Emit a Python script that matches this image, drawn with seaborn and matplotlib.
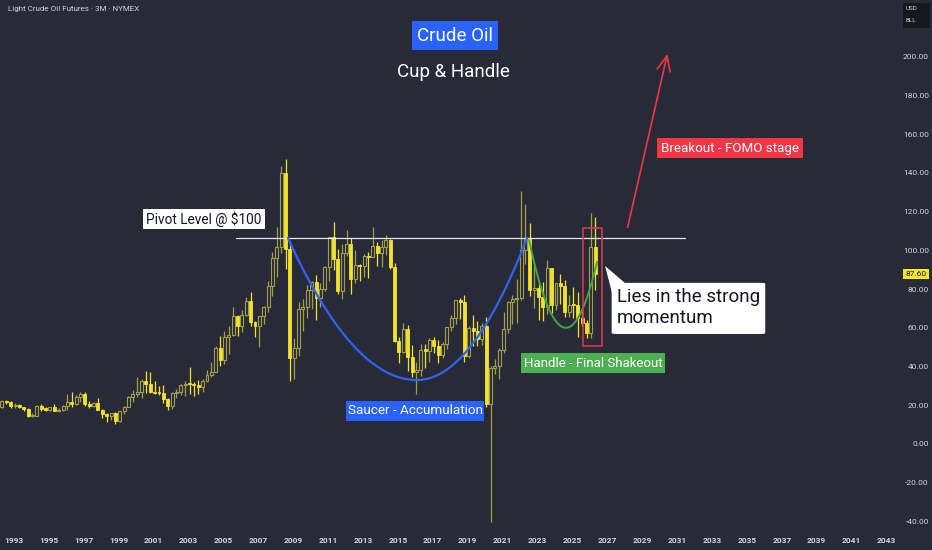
import numpy as np
import pandas as pd
import matplotlib
matplotlib.use("Agg")
import matplotlib.pyplot as plt
import seaborn as sns
from matplotlib.patches import Rectangle, FancyBboxPatch, Polygon

# ---------------- data (quarterly OHLC, 1992 Q1 -> 2026 Q2) ----------------
first_year = 1992
opens = [19.2, 19.2, 22.0, 21.8, 19.5, 20.3, 18.9, 18.1, 14.2, 14.7, 19.4, 18.0,
         17.8, 19.1, 17.2, 17.5, 19.6, 21.5, 20.9, 24.4, 25.9, 20.4, 19.8, 21.2,
         17.6, 15.6, 14.2, 16.1, 12.0, 16.8, 19.3, 24.5, 25.6, 26.9, 32.5, 30.8,
         26.8, 26.3, 26.3, 23.4, 19.8, 26.3, 26.9, 30.5, 31.2, 31.0, 30.2, 29.2,
         32.5, 35.8, 37.0, 49.6, 43.5, 55.4, 56.5, 66.2, 61.0, 66.6, 73.9, 62.9,
         61.1, 65.9, 70.7, 81.7, 96.0, 101.6, 140.0, 100.6, 44.6, 49.7, 69.9, 70.6,
         79.4, 83.8, 75.6, 80.0, 91.4, 106.7, 95.4, 79.2, 98.8, 103.0, 85.0, 92.2,
         91.8, 97.2, 96.6, 102.3, 98.4, 101.6, 105.4, 91.2, 53.3, 47.6, 59.5, 45.1,
         37.0, 38.3, 48.3, 48.2, 53.7, 50.6, 46.0, 51.7, 60.4, 64.9, 74.2, 73.3,
         45.4, 60.1, 58.5, 54.1, 61.1, 20.5, 39.3, 40.2, 48.5, 59.2, 73.5, 75.0,
         75.2, 100.3, 105.8, 79.5, 80.3, 75.7, 70.6, 90.8, 71.7, 83.2, 81.5, 68.2,
         71.7, 71.5, 65.1, 62.4, 57.4, 101.9]
highs = [19.6, 22.9, 22.6, 22.0, 21.1, 20.8, 19.2, 18.4, 15.9, 20.2, 20.7, 19.0,
         19.1, 20.5, 18.8, 19.9, 25.6, 26.6, 25.3, 26.6, 26.6, 22.4, 21.6, 23.9,
         18.0, 16.1, 16.1, 16.4, 16.8, 19.6, 25.0, 28.0, 34.4, 33.3, 37.8, 37.3,
         32.7, 30.0, 30.2, 23.5, 26.7, 28.4, 31.0, 32.7, 40.0, 32.0, 32.9, 33.7,
         38.4, 42.5, 50.5, 55.7, 58.3, 60.9, 70.9, 66.4, 69.2, 75.9, 78.4, 63.6,
         66.0, 71.0, 83.9, 99.3, 111.8, 143.7, 147.3, 104.3, 54.7, 73.4, 75.0, 82.0,
         83.9, 87.2, 82.9, 92.1, 106.9, 114.8, 100.6, 103.4, 110.6, 106.4, 100.4, 93.0,
         98.2, 98.9, 112.2, 104.2, 105.2, 107.7, 106.0, 93.6, 55.2, 62.6, 61.5, 50.9,
         42.5, 51.7, 51.6, 54.5, 55.2, 53.8, 52.9, 60.5, 66.7, 74.5, 75.3, 76.9,
         60.7, 66.6, 63.4, 62.3, 65.6, 40.4, 43.8, 49.4, 68.0, 74.0, 77.0, 85.4,
         130.5, 123.7, 114.1, 93.6, 83.0, 83.5, 95.0, 90.8, 83.1, 87.7, 84.5, 77.0,
         80.8, 78.4, 70.0, 64.0, 119.5, 117.0]
lows = [17.8, 18.7, 20.7, 18.8, 18.7, 18.6, 16.9, 13.9, 13.9, 14.5, 17.1, 16.9,
        16.9, 17.1, 16.7, 17.1, 17.6, 19.1, 20.3, 21.8, 19.8, 18.6, 18.9, 17.6,
        13.5, 11.4, 12.5, 10.35, 11.3, 15.6, 19.0, 21.6, 24.5, 23.7, 26.5, 26.3,
        25.9, 25.1, 21.4, 17.5, 17.9, 23.5, 25.5, 25.0, 26.0, 25.0, 26.0, 27.0,
        32.2, 34.5, 37.0, 40.3, 41.3, 46.2, 56.0, 55.5, 57.6, 65.9, 60.9, 55.1,
        49.9, 61.9, 68.2, 76.6, 86.1, 98.6, 90.5, 32.4, 33.6, 45.6, 58.3, 65.1,
        69.5, 64.2, 70.8, 79.1, 84.1, 90.0, 77.3, 75.0, 96.8, 77.3, 83.1, 84.1,
        86.1, 85.6, 96.4, 91.8, 91.2, 97.4, 90.4, 52.4, 42.0, 47.1, 37.75, 34.5,
        26.05, 35.2, 39.2, 42.2, 47.1, 42.0, 44.2, 49.1, 58.1, 62.2, 64.4, 42.4,
        44.4, 50.6, 50.5, 51.0, 19.3, -40.3, 36.1, 33.6, 47.2, 57.3, 61.7, 62.4,
        74.3, 92.9, 76.3, 70.1, 64.1, 63.6, 67.0, 67.7, 69.3, 72.5, 65.3, 65.3,
        65.2, 55.1, 61.0, 54.9, 54.6, 79.5]
closes = [19.2, 22.0, 21.8, 19.5, 20.3, 18.9, 18.1, 14.2, 14.7, 19.4, 18.0, 17.8,
          19.1, 17.2, 17.5, 19.6, 21.5, 20.9, 24.4, 25.9, 20.4, 19.8, 21.2, 17.6,
          15.6, 14.2, 16.1, 12.0, 16.8, 19.3, 24.5, 25.6, 26.9, 32.5, 30.8, 26.8,
          26.3, 26.25, 23.4, 19.8, 26.3, 26.9, 30.5, 31.2, 31.0, 30.2, 29.2, 32.5,
          35.8, 37.0, 49.6, 43.5, 55.4, 56.5, 66.2, 61.0, 66.6, 73.9, 62.9, 61.1,
          65.9, 70.7, 81.7, 96.0, 101.6, 140.0, 100.6, 44.6, 49.7, 69.9, 70.6, 79.4,
          83.8, 75.6, 80.0, 91.4, 106.7, 95.4, 79.2, 98.8, 103.0, 85.0, 92.2, 91.8,
          97.2, 96.6, 102.3, 98.4, 101.6, 105.4, 91.2, 53.3, 47.6, 59.5, 45.1, 37.0,
          38.3, 48.3, 48.2, 53.7, 50.6, 46.0, 51.7, 60.4, 64.9, 74.2, 73.3, 45.4,
          60.1, 58.5, 54.1, 61.1, 20.5, 39.3, 40.2, 48.5, 59.2, 73.5, 75.0, 75.2,
          100.3, 105.8, 79.5, 80.3, 75.7, 70.6, 90.8, 71.7, 83.2, 81.5, 68.2, 71.7,
          71.5, 65.1, 62.4, 57.4, 101.9, 87.6]
last_price = "87.60"
year_ticks = list(range(1993, 2044, 2))
price_ticks = list(range(-40, 201, 20))

# ---------------- style ----------------
sns.set_theme(style="dark")
BG = "#282b37"
TXT = "#d1d4dc"
UP = "#a39e4a"
DOWN = "#f2e230"
plt.rcParams["font.family"] = ["Roboto", "DejaVu Sans"]

df = pd.DataFrame({"open": opens, "high": highs, "low": lows, "close": closes})
df["t"] = first_year + np.arange(len(df)) * 0.25 + 0.06
df["up"] = df["close"] >= df["open"]
df["bottom"] = df[["open", "close"]].min(axis=1)
df["height"] = (df["close"] - df["open"]).abs().clip(lower=0.6)

fig = plt.figure(figsize=(9.32, 5.50), dpi=100)
fig.patch.set_facecolor(BG)
ax = fig.add_axes([0, 20 / 550, 897 / 932, 530 / 550])
ax.set_facecolor(BG)

# wicks
for is_up, col in [(True, UP), (False, DOWN)]:
    sub = df[df["up"] == is_up]
    ax.vlines(sub["t"], sub["low"], sub["high"], color=col, lw=0.9, zorder=2)
# bodies
up = df[df["up"]]
dn = df[~df["up"]]
ax.bar(up["t"], up["height"], bottom=up["bottom"], width=0.17,
       facecolor=BG, edgecolor=UP, linewidth=0.8, zorder=3)
ax.bar(dn["t"], dn["height"], bottom=dn["bottom"], width=0.17,
       facecolor=DOWN, edgecolor=DOWN, linewidth=0.6, zorder=3)

ax.set_xlim(1992.198, 2043.6)
ax.set_ylim(-44.4, 229.2)

# axes / ticks
for s in ax.spines.values():
    s.set_visible(False)
ax.grid(False)
ax.yaxis.tick_right()
ax.set_yticks(price_ticks)
ax.set_yticklabels([f"{v:.2f}" for v in price_ticks], fontsize=6, color=TXT,
                   ha="right")
ax.tick_params(axis="y", length=0, pad=23)
ax.set_xticks(year_ticks)
ax.set_xticklabels([str(y) for y in year_ticks], fontsize=6, color=TXT,
                   fontweight="bold")
ax.tick_params(axis="x", length=0, pad=5)

# pivot line
ax.plot([2005.72, 2031.45], [106.3, 106.3], color="#e6e8ee", lw=0.9, zorder=4)

# cup (blue) and handle (green) curves as half-parabolas
def half_parabola(x0, y0, xm, ym, n=60):
    x = np.linspace(x0, xm, n)
    y = ym + (y0 - ym) * ((x - xm) / (x0 - xm)) ** 2
    return x, y

xl, yl = half_parabola(2008.70, 106.3, 2016.09, 33.0)
xr, yr = half_parabola(2022.40, 106.3, 2016.09, 33.0)
cup = pd.DataFrame({"x": np.r_[xl, xr[::-1]], "y": np.r_[yl, yr[::-1]]})
sns.lineplot(data=cup, x="x", y="y", sort=False, estimator=None, ax=ax,
             color="#2f63f0", lw=1.6, zorder=5)
hl, hyl = half_parabola(2022.52, 105.3, 2024.63, 60.0)
hr, hyr = half_parabola(2026.41, 94.0, 2024.63, 60.0)
handle = pd.DataFrame({"x": np.r_[hl, hr[::-1]], "y": np.r_[hyl, hyr[::-1]]})
sns.lineplot(data=handle, x="x", y="y", sort=False, estimator=None, ax=ax,
             color="#43a547", lw=1.4, zorder=5)
ax.set_xlabel("")
ax.set_ylabel("")

# red box around last candles
ax.add_patch(Rectangle((2025.61, 50.7), 1.07, 60.8, fill=False,
                       edgecolor="#e5374a", lw=1.1, zorder=6))

# breakout arrow
ax.annotate("", xy=(2030.48, 202.8), xytext=(2028.13, 110.5),
            arrowprops=dict(arrowstyle="->,head_length=0.9,head_width=0.4",
                            color="#f23645", lw=1.2), zorder=6)

def label_box(x0, x1, y0, y1, text, fc, tc, size):
    ax.add_patch(Rectangle((x0, y0), x1 - x0, y1 - y0, facecolor=fc,
                           edgecolor="none", zorder=7))
    ax.text((x0 + x1) / 2, (y0 + y1) / 2, text, color=tc, fontsize=size,
            ha="center", va="center", zorder=8)

label_box(2015.81, 2020.74, 203.4, 218.3, "Crude Oil", "#2962ff", "white", 13.5)
ax.text(2018.16, 192.0, "Cup & Handle", color="white", fontsize=13.5,
        ha="center", va="center", zorder=8)
label_box(2000.39, 2007.38, 111.0, 121.3, "Pivot Level @ $100", "white",
          "#131722", 9.8)
label_box(2029.85, 2038.21, 147.6, 157.9, "Breakout - FOMO stage", "#f23645",
          "white", 9.6)
label_box(2022.05, 2030.31, 36.6, 47.0, "Handle - Final Shakeout", "#4caf50",
          "white", 9.5)
label_box(2012.03, 2019.93, 11.9, 22.2, "Saucer - Accumulation", "#2962ff",
          "white", 9.7)

# callout
ax.add_patch(FancyBboxPatch((2027.25, 56.8), 8.8, 26.4,
                            boxstyle="round,pad=0,rounding_size=0.25",
                            mutation_aspect=2.0,
                            facecolor="white", edgecolor="none", zorder=7))
ax.add_patch(Polygon([(2026.87, 91.9), (2027.27, 78.0), (2028.0, 83.2)],
                     closed=True, facecolor="white", edgecolor="none", zorder=7))
ax.text(2027.56, 75.9, "Lies in the strong", color="#131722", fontsize=13.5,
        ha="left", va="center", zorder=8)
ax.text(2027.56, 65.0, "momentum", color="#131722", fontsize=13.5,
        ha="left", va="center", zorder=8)

# last price tag
ax.annotate(last_price, xy=(1.0212, 87.6), xycoords=("axes fraction", "data"),
            ha="center", va="center", fontsize=6, color="#131722",
            bbox=dict(boxstyle="square,pad=0.25", facecolor="#f5e625",
                      edgecolor="none"), zorder=9, annotation_clip=False)

# header text
fig.text(8 / 932, 1 - 9 / 550, "Light Crude Oil Futures · 3M · NYMEX",
         fontsize=5.8, color=TXT, ha="left", va="center")
fig.patches.append(Rectangle((903 / 932, 1 - 28 / 550), 27 / 932, 25 / 550,
                             transform=fig.transFigure, facecolor="#16181f",
                             edgecolor="none"))
fig.text(906 / 932, 1 - 9 / 550, "USD", fontsize=4.5, color=TXT, va="center")
fig.text(906 / 932, 1 - 21 / 550, "BLL", fontsize=4.5, color=TXT, va="center")

fig.savefig("out.png", dpi=100, facecolor=BG)
